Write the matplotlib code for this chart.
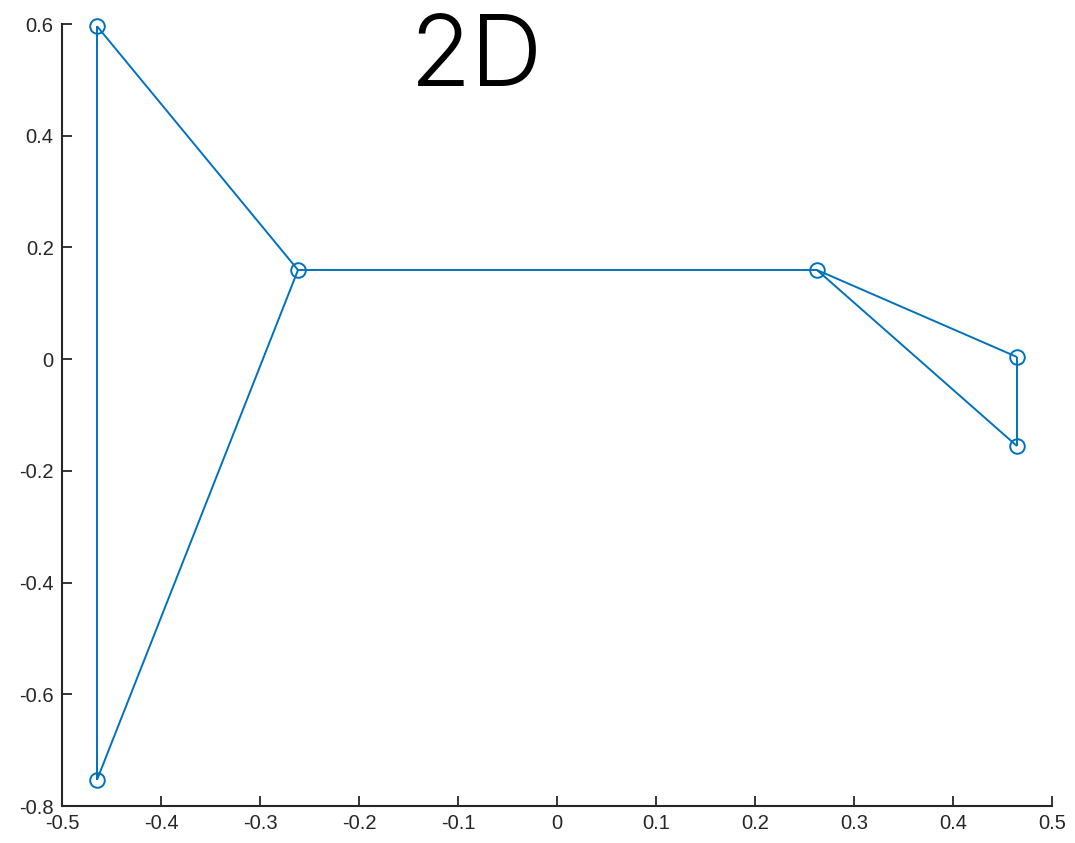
import matplotlib
matplotlib.use("Agg")
import matplotlib.pyplot as plt
from matplotlib import font_manager
import numpy as np

node_x = [-0.4646, -0.4646, -0.2616, 0.2626, 0.4646, 0.4646]
node_y = [0.596, -0.753, 0.1596, 0.1596, 0.0039, -0.1555]
edges = [(0, 1), (0, 2), (1, 2), (2, 3), (3, 4), (3, 5), (4, 5)]
x_ticks = [-0.5, -0.4, -0.3, -0.2, -0.1, 0, 0.1, 0.2, 0.3, 0.4, 0.5]
y_ticks = [-0.8, -0.6, -0.4, -0.2, 0, 0.2, 0.4, 0.6]
x_labels = ["-0.5", "-0.4", "-0.3", "-0.2", "-0.1", "0", "0.1", "0.2", "0.3", "0.4", "0.5"]
y_labels = ["-0.8", "-0.6", "-0.4", "-0.2", "0", "0.2", "0.4", "0.6"]
title = "2D"

W, H = 1075, 843
fig = plt.figure(figsize=(W / 100, H / 100), dpi=100)
ax = fig.add_axes([62 / W, 37 / H, 990 / W, 782 / H])
color = "#0072BD"
for i, j in edges:
    ax.plot([node_x[i], node_x[j]], [node_y[i], node_y[j]], color=color, lw=1.4,
            solid_capstyle="butt", clip_on=False)
ax.plot(node_x, node_y, linestyle="none", marker="o", ms=10.5, mfc="none", mec=color,
        mew=1.4, clip_on=False)

ax.set_xlim(-0.5, 0.5)
ax.set_ylim(-0.8, 0.6)
ax.set_xticks(x_ticks)
ax.set_xticklabels(x_labels)
ax.set_yticks(y_ticks)
ax.set_yticklabels(y_labels)
for s in ["top", "right"]:
    ax.spines[s].set_visible(False)
for s in ["left", "bottom"]:
    ax.spines[s].set_color("#262626")
    ax.spines[s].set_linewidth(1.5)
ax.tick_params(direction="in", length=7, width=1.3, color="#262626",
               labelcolor="#262626", labelsize=14.5, pad=6)
for lab in ax.get_xticklabels() + ax.get_yticklabels():
    lab.set_family("Liberation Sans")

# pick a light-weight sans for the title if one is installed
light = None
for f in font_manager.fontManager.ttflist:
    if f.name in ("Roboto", "Lato", "Open Sans", "Inter") and f.weight in (300, "light") and f.style == "normal":
        light = f.fname
        break
if light:
    fp = font_manager.FontProperties(fname=light, size=72)
else:
    fp = font_manager.FontProperties(family="DejaVu Sans", weight="light", size=72)

fig.text(477 / W, (H - 86) / H, title, ha="center", va="baseline",
         fontproperties=fp, color="black")

fig.savefig("out.png", dpi=100)
